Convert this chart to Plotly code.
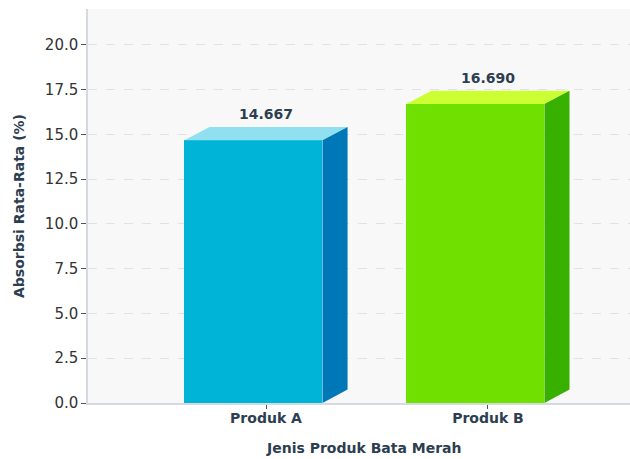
import plotly.graph_objects as go

# Data
categories = ["Produk A", "Produk B"]
absorption = [14.667, 16.690]
label_texts = ["14.667", "16.690"]
y_ticks = [0.0, 2.5, 5.0, 7.5, 10.0, 12.5, 15.0, 17.5, 20.0]

# Colours per bar: front, top, side
front_colors = ["#00b4d8", "#70e000"]
top_colors = ["#90e0ef", "#ccff33"]
side_colors = ["#0077b6", "#38b000"]

# Pseudo-3D geometry (category units / value units)
bar_w = 0.622
depth_x = 0.113
depth_y = 0.75
half_total = (bar_w + depth_x) / 2

navy = "#2c3e50"
font_family = "DejaVu Sans"

# Figure size and margins (px)
W, H = 630, 459
M_L, M_R, M_T, M_B = 88, 0, 9, 56

fig = go.Figure()

xs = list(range(len(categories)))
for i, (xc, v) in enumerate(zip(xs, absorption)):
    x0 = xc - half_total
    x1 = x0 + bar_w
    # front face
    fig.add_trace(go.Bar(
        x=[xc], y=[v], width=bar_w, offset=-half_total,
        marker=dict(color=front_colors[i], line=dict(width=0)),
        showlegend=False, hoverinfo="skip",
    ))
    # top face
    fig.add_trace(go.Scatter(
        x=[x0, x1, x1 + depth_x, x0 + depth_x, x0],
        y=[v, v, v + depth_y, v + depth_y, v],
        fill="toself", fillcolor=top_colors[i], mode="lines",
        line=dict(width=0, color=top_colors[i]),
        showlegend=False, hoverinfo="skip",
    ))
    # side face
    fig.add_trace(go.Scatter(
        x=[x1, x1 + depth_x, x1 + depth_x, x1, x1],
        y=[0, depth_y, v + depth_y, v, 0],
        fill="toself", fillcolor=side_colors[i], mode="lines",
        line=dict(width=0, color=side_colors[i]),
        showlegend=False, hoverinfo="skip",
    ))
    # value label
    fig.add_annotation(
        x=xc, y=v + depth_y, text=f"<b>{label_texts[i]}</b>",
        showarrow=False, yanchor="middle", yshift=13,
        font=dict(family=font_family, size=14, color=navy),
    )

# x-axis title, placed below the tick labels
plot_h = H - M_T - M_B
fig.add_annotation(
    x=0.509, y=-(448 - (H - M_B)) / plot_h, xref="paper", yref="paper",
    yanchor="middle", text="<b>Jenis Produk Bata Merah</b>", showarrow=False,
    font=dict(family=font_family, size=14, color=navy),
)

fig.update_layout(
    width=W, height=H,
    margin=dict(l=M_L, r=M_R, t=M_T, b=M_B),
    paper_bgcolor="white",
    plot_bgcolor="#f8f8f8",
    bargap=0,
    font=dict(family=font_family),
    xaxis=dict(
        range=[-0.802, 1.64],
        tickmode="array", tickvals=xs,
        ticktext=[f"<b>{c}</b>" for c in categories],
        tickfont=dict(family=font_family, size=14, color=navy),
        ticks="outside", ticklen=4, tickcolor="#555555",
        ticklabelstandoff=-3,
        showgrid=False, zeroline=False,
        showline=True, linecolor="#d5d9e0", linewidth=1.5,
    ),
    yaxis=dict(
        range=[0, 22],
        tickmode="array", tickvals=y_ticks,
        ticktext=[f"{t:.1f}" for t in y_ticks],
        tickfont=dict(family=font_family, size=15, color="#333333"),
        ticks="outside", ticklen=5, tickcolor="#555555",
        showgrid=True, gridcolor="#e2e2e2", griddash="dash", gridwidth=1,
        zeroline=False,
        showline=True, linecolor="#d5d9e0", linewidth=1.5,
        title=dict(text="<b>Absorbsi Rata-Rata (%)</b>", standoff=17,
                   font=dict(family=font_family, size=14, color=navy)),
    ),
)

fig.write_html("out.html")
